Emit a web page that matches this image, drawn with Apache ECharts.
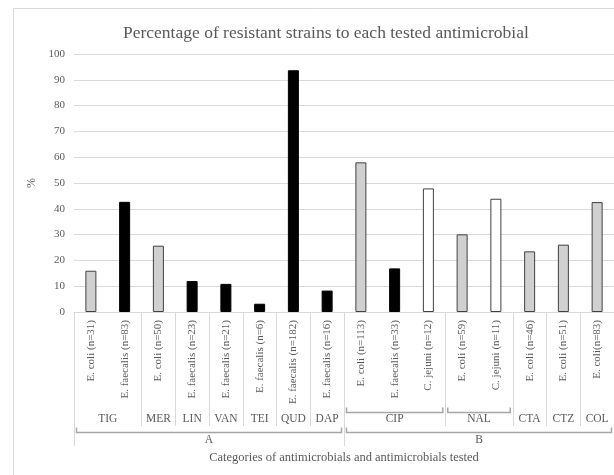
<!DOCTYPE html>
<html>
<head>
<meta charset="utf-8">
<script src="https://cdn.jsdelivr.net/npm/echarts@6/dist/echarts.min.js"></script>
<style>
html,body{margin:0;padding:0;background:#fff;}
#c{width:614px;height:475px;}
</style>
</head>
<body>
<div id="c"></div>
<script>
// ---- data ----
const speciesLabels = ['E. coli (n=31)','E. faecalis (n=83)','E. coli (n=50)','E. faecalis (n=23)','E. faecalis (n=21)','E. faecalis (n=6)','E. faecalis (n=182)','E. faecalis (n=16)','E. coli (n=113)','E. faecalis (n=33)','C. jejuni (n=12)','E. coli (n=59)','C. jejuni (n=11)','E. coli (n=46)','E. coli (n=51)','E. coli(n=83)'];
const species = ['E. coli','E. faecalis','E. coli','E. faecalis','E. faecalis','E. faecalis','E. faecalis','E. faecalis','E. coli','E. faecalis','C. jejuni','E. coli','C. jejuni','E. coli','E. coli','E. coli'];
const values = [16, 42.7, 25.7, 12, 10.9, 3.2, 93.7, 8.3, 58, 16.9, 47.9, 30.1, 43.9, 23.5, 26.1, 42.6];
const drugs = ['TIG','MER','LIN','VAN','TEI','QUD','DAP','CIP','NAL','CTA','CTZ','COL'];
const drugSpans = [2,1,1,1,1,1,1,3,2,1,1,1];
const bracketedDrugs = ['CIP','NAL'];
const classes = ['A','B'];
const classSpans = [8,8];
const titleText = 'Percentage of resistant strains to each tested antimicrobial';
const xTitle = 'Categories of antimicrobials and antimicrobials tested';
const yTitle = '%';

// ---- styles ----
const FONT = "'Liberation Serif', 'Times New Roman', serif";
const TXT = '#595959';
const GRIDC = '#d9d9d9';
const speciesStyle = {
  'E. coli': {color:'#d0d0d0', borderColor:'#404040'},
  'E. faecalis': {color:'#000000', borderColor:'#000000'},
  'C. jejuni': {color:'#ffffff', borderColor:'#404040'}
};

function spansToGroups(names, spans){
  let acc = 0;
  return names.map((n,i)=>{ const g = {name:n, start:acc, end:acc+spans[i]}; acc += spans[i]; return g; });
}
const drugGroups = spansToGroups(drugs, drugSpans);
const classGroups = spansToGroups(classes, classSpans);
const N = speciesLabels.length;
function nameAt(groups, v){
  const g = groups.find(g => Math.abs((g.start+g.end)/2 - v) < 1e-6);
  return g ? g.name : '';
}

const barData = values.map((v,i)=>({value:v, itemStyle:Object.assign({borderWidth:1}, speciesStyle[species[i]])}));
const bracketData = [];
drugGroups.forEach(g => { if (bracketedDrugs.includes(g.name)) bracketData.push([g.start, g.end, 0, 0]); });
classGroups.forEach(g => bracketData.push([g.start, g.end, 1, 0]));

const chart = echarts.init(document.getElementById('c'), null, {renderer:'canvas'});
chart.setOption({
  animation:false,
  backgroundColor:'#ffffff',
  title:{text:titleText, left:118, top:19, textStyle:{fontFamily:FONT, fontSize:17.5, fontWeight:'normal', color:TXT}},
  graphic:[{type:'rect', silent:true, shape:{x:13.5, y:8.5, width:700, height:500}, style:{fill:null, stroke:GRIDC, lineWidth:1}}],
  grid:{left:74, right:0, top:54, bottom:163, containLabel:false},
  xAxis:[
    {type:'category', data:speciesLabels, position:'bottom', boundaryGap:true,
     axisLine:{show:true, lineStyle:{color:GRIDC, width:1}},
     axisTick:{show:false},
     axisLabel:{interval:0, rotate:90, margin:8, fontFamily:FONT, fontSize:11, color:TXT},
     splitLine:{show:false}},
    {type:'value', min:0, max:N, position:'bottom',
     axisLine:{show:false}, splitLine:{show:false},
     axisTick:{show:true, customValues:[...drugGroups.map(g=>g.start), N], length:114, lineStyle:{color:GRIDC, width:1}},
     axisLabel:{show:true, customValues:drugGroups.map(g=>(g.start+g.end)/2), margin:101, fontFamily:FONT, fontSize:11.5, color:TXT,
       formatter:v=>nameAt(drugGroups, v)}},
    {type:'value', min:0, max:N, position:'bottom',
     axisLine:{show:false}, splitLine:{show:false},
     axisTick:{show:true, customValues:[...classGroups.map(g=>g.start), N], length:134, lineStyle:{color:GRIDC, width:1}},
     axisLabel:{show:true, customValues:classGroups.map(g=>(g.start+g.end)/2), margin:122, fontFamily:FONT, fontSize:11.5, color:TXT,
       formatter:v=>nameAt(classGroups, v)},
     name:xTitle, nameLocation:'middle', nameGap:138,
     nameTextStyle:{fontFamily:FONT, fontSize:12.5, color:TXT}}
  ],
  yAxis:{type:'value', min:0, max:100, interval:10,
    axisLine:{show:false}, axisTick:{show:false},
    axisLabel:{margin:9, fontFamily:FONT, fontSize:11, color:TXT},
    splitLine:{show:true, lineStyle:{color:GRIDC, width:1}},
    name:yTitle, nameLocation:'middle', nameGap:30,
    nameTextStyle:{fontFamily:FONT, fontSize:12, color:TXT}},
  series:[
    {type:'bar', xAxisIndex:0, yAxisIndex:0, data:barData, barWidth:11},
    {type:'custom', xAxisIndex:1, yAxisIndex:0, clip:false, silent:true,
     encode:{x:[0,1], y:3},
     data:bracketData,
     renderItem:function(params, api){
       const x1 = api.coord([api.value(0), 0])[0] + 2.5;
       const x2 = api.coord([api.value(1), 0])[0] - 2.5;
       const base = api.coord([0, 0])[1];
       const y = base + (api.value(2) === 0 ? 100.5 : 120.5);
       return {type:'polyline', shape:{points:[[x1,y-5],[x1,y],[x2,y],[x2,y-5]]},
               style:{stroke:'#a6a6a6', lineWidth:1.5, fill:null}};
     }}
  ]
});
</script>
</body>
</html>
